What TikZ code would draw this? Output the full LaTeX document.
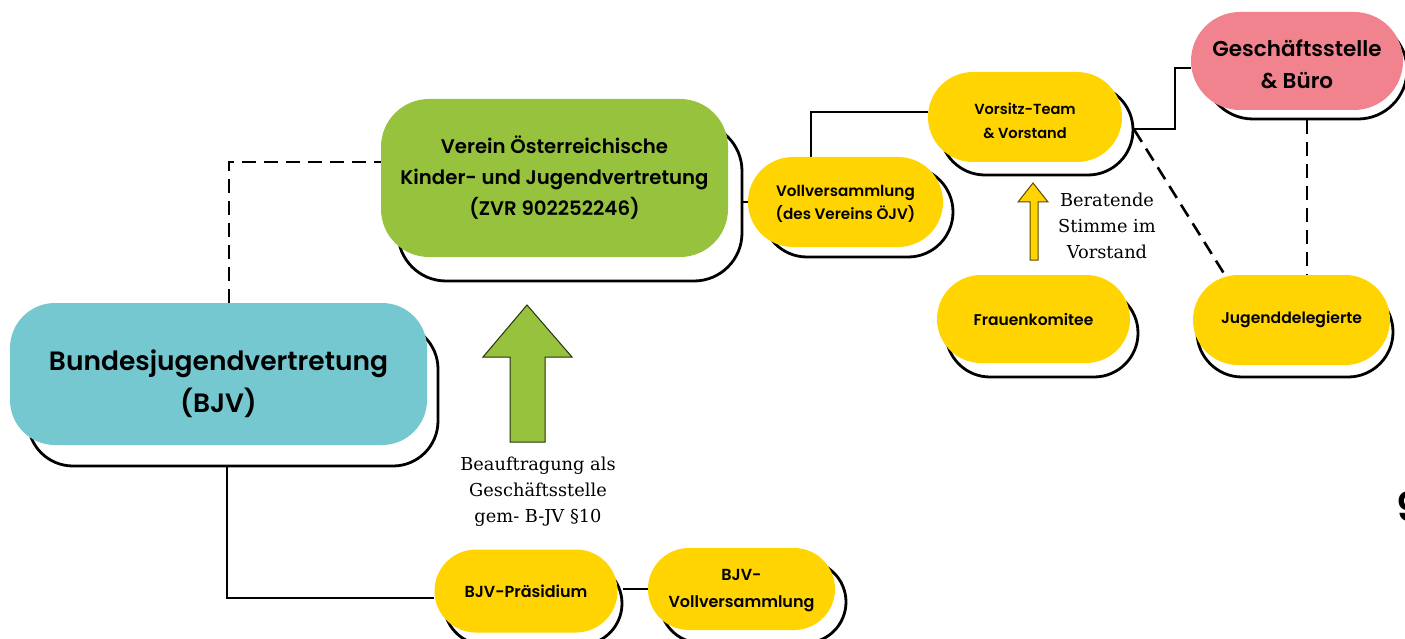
\documentclass[tikz,border=0pt]{standalone}
\usepackage{fontspec}
\newfontfamily\pop{Poppins SemiBold}
\newfontfamily\labfont{DejaVu Serif}
\pgfdeclarelayer{bg}
\pgfsetlayers{bg,main}
\definecolor{cteal}{HTML}{76C8D0}
\definecolor{cgreen}{HTML}{96C23E}
\definecolor{cyellow}{HTML}{FFD400}
\definecolor{cpink}{HTML}{F0838E}
\tikzset{
  shbox/.style={draw=black, line width=2.8pt, fill=white, inner sep=0pt},
  fillbox/.style={inner sep=0pt, align=center, text=black},
  fs/.style 2 args={font=\pop\fontsize{#1}{#2}\selectfont},
  conn/.style={line width=2.6pt, draw=black},
  dconn/.style={line width=2.6pt, draw=black, dash pattern=on 14pt off 8pt},
  lab/.style={inner sep=0pt, align=center, font=\labfont\fontsize{17.8}{26}\selectfont},
  blockarrow/.style={line width=1pt, line join=miter}
}
\begin{document}
\begin{tikzpicture}[x=1pt,y=-1pt]
\useasboundingbox (0,0) rectangle (1405,639);

% ---------- boxes: shadow outline, then coloured fill ----------
% Bundesjugendvertretung
\node[shbox, rounded corners=45pt, minimum width=410pt, minimum height=142pt] (bjvS) at (233,395) {};
\node[fillbox, fill=cteal, rounded corners=45pt, minimum width=417pt, minimum height=142pt, fs={26.5}{42}] (bjv) at (218.5,374) {\rule{0pt}{40pt}Bundesjugendvertretung\\(BJV)};

% Verein
\node[shbox, rounded corners=48pt, minimum width=344pt, minimum height=158pt] (vereinS) at (570,202) {};
\node[fillbox, fill=cgreen, rounded corners=48pt, minimum width=347pt, minimum height=158pt, fs={19.7}{31}] (verein) at (554.5,178) {Verein Österreichische\\Kinder- und Jugendvertretung\\(ZVR 902252246)};

% Vollversammlung (des Vereins)
\node[shbox, rounded corners=45pt, minimum width=191pt, minimum height=90pt] (vollvS) at (857.5,212) {};
\node[fillbox, fill=cyellow, rounded corners=45pt, minimum width=195pt, minimum height=90pt, fs={15.2}{23}] (vollv) at (845.5,202) {\rule{0pt}{14pt}Vollversammlung\\(des Vereins ÖJV)};

% Vorsitz-Team
\node[shbox, rounded corners=45pt, minimum width=193pt, minimum height=90pt] (vorsS) at (1036.5,130) {};
\node[fillbox, fill=cyellow, rounded corners=45pt, minimum width=194pt, minimum height=90pt, fs={14.6}{24}] (vors) at (1025,117) {\rule{0pt}{20pt}Vorsitz-Team\\\& Vorstand};

% Geschaeftsstelle
\node[shbox, rounded corners=49pt, minimum width=203pt, minimum height=98pt] (geschS) at (1305.5,70) {};
\node[fillbox, fill=cpink, rounded corners=49pt, minimum width=212pt, minimum height=98pt, fs={21.5}{32}] (gesch) at (1297,61) {\rule{0pt}{23pt}Geschäftsstelle\\\& Büro};

% Frauenkomitee
\node[shbox, rounded corners=44pt, minimum width=192pt, minimum height=88pt] (frauS) at (1042,333) {};
\node[fillbox, fill=cyellow, rounded corners=44pt, minimum width=193pt, minimum height=88pt, fs={15.5}{23}] (frau) at (1033.5,319) {Frauenkomitee};

% Jugenddelegierte
\node[shbox, rounded corners=45pt, minimum width=196pt, minimum height=90pt] (jugS) at (1295,332) {};
\node[fillbox, fill=cyellow, rounded corners=45pt, minimum width=197pt, minimum height=90pt, fs={15.6}{23}] (jug) at (1291.5,320) {Jugenddelegierte};

% BJV-Praesidium
\node[shbox, rounded corners=41.5pt, minimum width=178pt, minimum height=83pt] (prasS) at (533,603.5) {};
\node[fillbox, fill=cyellow, rounded corners=41.5pt, minimum width=183pt, minimum height=83pt, fs={16}{23}] (pras) at (526,591) {BJV-Präsidium};

% BJV-Vollversammlung
\node[shbox, rounded corners=41pt, minimum width=186pt, minimum height=82pt] (bvollS) at (753,602) {};
\node[fillbox, fill=cyellow, rounded corners=41pt, minimum width=187pt, minimum height=82pt, fs={16}{27}] (bvoll) at (741.5,589) {\rule{0pt}{14pt}BJV-\\Vollversammlung};

% ---------- connector bend points ----------
\coordinate (j1) at (229,162);
\coordinate (j2) at (227,598);
\coordinate (j5) at (811,112);
\coordinate (j6) at (1175,129);
\coordinate (j6b) at (1175,68);
\coordinate (j7) at (1228,280);
\coordinate (j8) at (1307,200);

\begin{pgfonlayer}{bg}
\draw[dconn] (bjv.north -| j1) -- (j1) -- (j1 -| verein.west);
\draw[conn] (bjvS.south -| j2) -- (j2) -- (j2 -| pras.west);
\draw[conn] (prasS.east |- bvoll.west) -- (bvoll.west);
\draw[conn] (vereinS.east |- vollv.west) -- (vollv.west);
\draw[conn] (j5 |- vollv.north) -- (j5) -- (j5 -| vors.west);
\draw[conn] (vorsS.east |- j6) -- (j6) -- (j6b) -- (j6b -| gesch.west);
\draw[dconn] (vorsS.east) -- (j7);
\draw[dconn] (geschS.south -| j8) -- (j8 |- jug.north);
\end{pgfonlayer}

% ---------- block arrows ----------
\draw[blockarrow, fill=cgreen, draw=black!75!cgreen] (510,442) -- (510,357) -- (483,357) -- (527,305) -- (572,357) -- (545,357) -- (545,442) -- cycle;
\draw[blockarrow, fill=cyellow, draw=black!65!cyellow] (1030,260) -- (1030,202) -- (1018,202) -- (1033,183) -- (1048,202) -- (1038,202) -- (1038,260) -- cycle;

% ---------- labels ----------
\node[lab] (beauf) at (538,492) {Beauftragung als\\Geschäftsstelle\\gem- B-JV §10};
\node[lab] (berat) at (1107,226) {Beratende\\Stimme im\\Vorstand};
\node[anchor=west, inner sep=0pt, font=\pop\fontsize{40}{40}\selectfont] (nine) at (1396,507) {9};
\end{tikzpicture}
\end{document}
